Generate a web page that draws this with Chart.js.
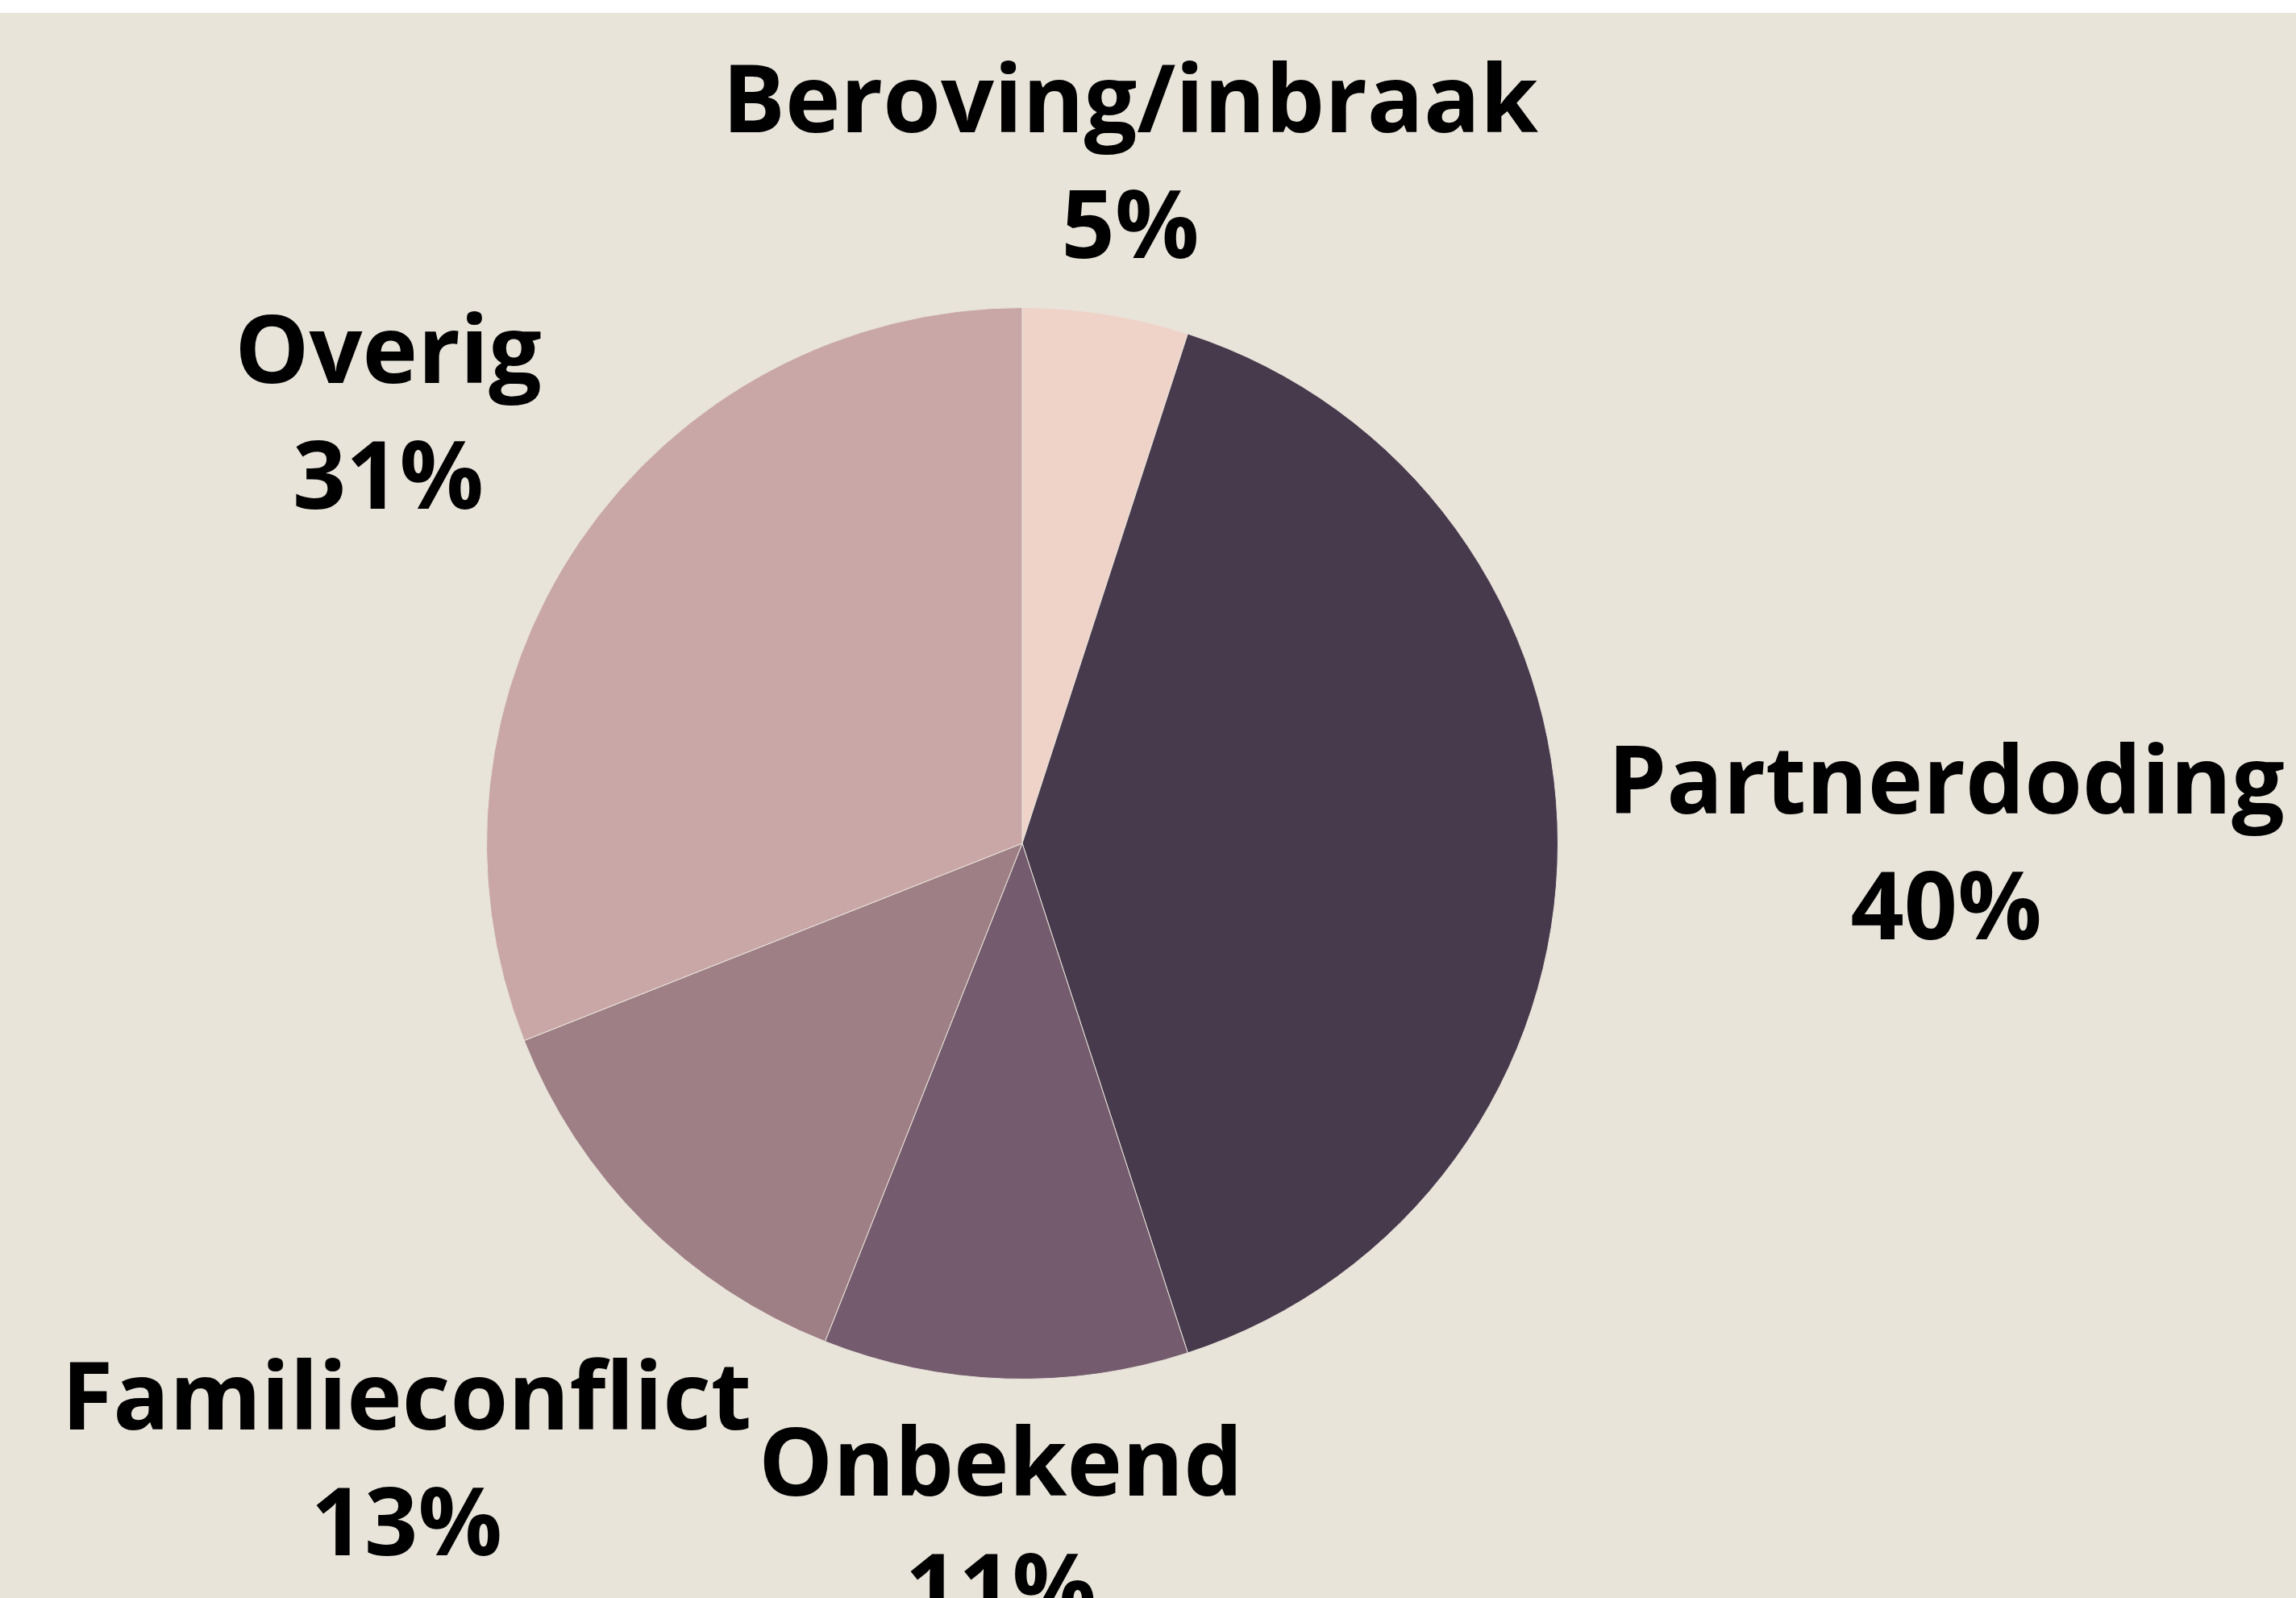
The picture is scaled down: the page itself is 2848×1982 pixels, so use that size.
<!DOCTYPE html>
<html>
<head>
<meta charset="utf-8">
<script src="https://cdn.jsdelivr.net/npm/chart.js@4.4.1/dist/chart.umd.min.js"></script>
<style>
    html, body { margin: 0; padding: 0; background: #ffffff; }
    #wrap { position: absolute; top: 16px; left: 0; width: 2848px; height: 1966px; background: #e8e4da; overflow: hidden; }
</style>
</head>
<body>
<div id="wrap"><canvas id="chart" width="2848" height="1966"></canvas></div>
<script>
// Data
const categories = ['Beroving/inbraak', 'Partnerdoding', 'Onbekend', 'Familieconflict', 'Overig'];
const shares = [5, 40, 11, 13, 31];
const sliceColors = ['#f0d3c8', '#483a4d', '#745b6d', '#9f7f86', '#c9a7a7'];

// Label styling
const labelFontSize = 116;
const labelFont = `bold ${labelFontSize}px "Open Sans"`;
const capHeight = labelFontSize * 0.714;
const lineGap = 156;
const labelGap = 62;

// Places each two-line label on the slice's mid-angle ray, just outside the pie
const outsideLabels = {
    id: 'outsideLabels',
    afterDatasetsDraw(chart) {
        const ctx = chart.ctx;
        const arcs = chart.getDatasetMeta(0).data;

        ctx.save();
        ctx.font = labelFont;
        ctx.fillStyle = '#000000';
        ctx.textAlign = 'center';
        ctx.textBaseline = 'alphabetic';

        arcs.forEach((arc, i) => {
            const lines = [categories[i], shares[i] + '%'];
            const w = Math.max(...lines.map(l => ctx.measureText(l).width));
            const h = capHeight + lineGap;
            const mid = (arc.startAngle + arc.endAngle) / 2;
            const ux = Math.cos(mid);
            const uy = Math.sin(mid);
            const target = arc.outerRadius + labelGap;

            // find distance where box edge sits labelGap away from the circle
            let lo = 0, hi = arc.outerRadius * 4;
            for (let k = 0; k < 50; k++) {
                const d = (lo + hi) / 2;
                const dx = Math.max(Math.abs(d * ux) - w / 2, 0);
                const dy = Math.max(Math.abs(d * uy) - h / 2, 0);
                if (Math.hypot(dx, dy) < target) lo = d; else hi = d;
            }
            const cx = arc.x + lo * ux;
            const cy = arc.y + lo * uy;
            const base1 = cy - h / 2 + capHeight;

            ctx.fillText(lines[0], cx, base1);
            ctx.fillText(lines[1], cx, base1 + lineGap);
        });

        ctx.restore();
    }
};

const ctx = document.getElementById('chart').getContext('2d');

new Chart(ctx, {
    type: 'pie',
    data: {
        labels: categories,
        datasets: [{
            data: shares,
            backgroundColor: sliceColors,
            borderColor: '#e8e4da',
            borderWidth: 1,
        }]
    },
    options: {
        responsive: false,
        animation: false,
        layout: {
            padding: { top: 365, bottom: 271, left: 603, right: 915 }
        },
        plugins: {
            legend: { display: false },
            tooltip: { enabled: false }
        }
    },
    plugins: [outsideLabels]
});
</script>
</body>
</html>
